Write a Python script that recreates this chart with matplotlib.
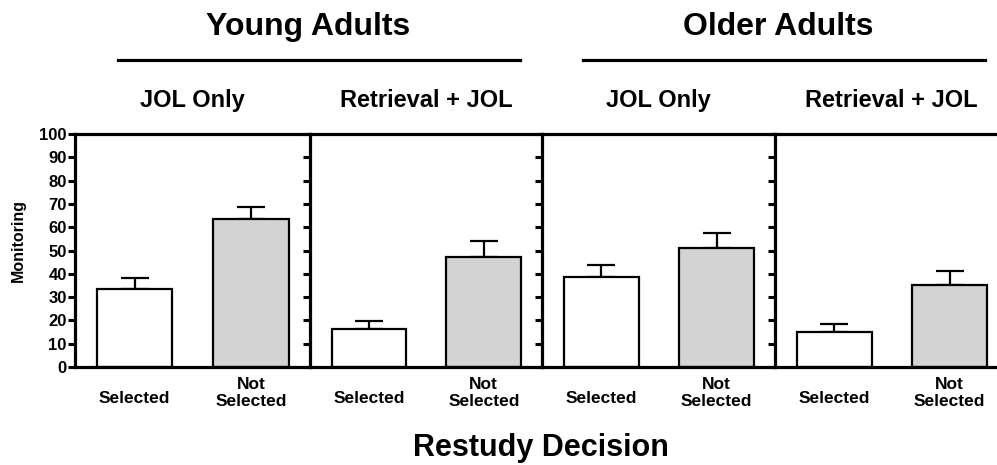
import matplotlib
matplotlib.use("Agg")
import matplotlib.pyplot as plt
from matplotlib.lines import Line2D
import numpy as np

plt.rcParams['font.family'] = ['Liberation Sans', 'DejaVu Sans']
plt.rcParams['font.weight'] = 'bold'

# Monitoring scores (mean, SEM) per restudy decision
categories = ["Selected", "Not\nSelected"]
groups = ["Young Adults", "Older Adults"]
conditions = ["JOL Only", "Retrieval + JOL"]

young_jol = [33.3, 63.5]
young_jol_sem = [4.8, 5.0]
young_ret = [16.3, 47.4]
young_ret_sem = [3.6, 6.5]
older_jol = [38.5, 50.9]
older_jol_sem = [5.1, 6.4]
older_ret = [15.2, 35.1]
older_ret_sem = [3.4, 5.9]

panels = [
    (young_jol, young_jol_sem),
    (young_ret, young_ret_sem),
    (older_jol, older_jol_sem),
    (older_ret, older_ret_sem),
]
bar_colors = ["white", "#d3d3d3"]

W, H = 997, 465
fig = plt.figure(figsize=(W / 100, H / 100), dpi=100)

# panel edges in pixels
lefts = [75, 310, 542, 775]
widths = [235, 232, 233, 233]
top, bottom = 134, 367
title_y = (bottom - 100) / (bottom - top)   # subtitle row, in axes units

x = np.arange(len(categories))
for i, (means, sems) in enumerate(panels):
    ax = fig.add_axes([lefts[i] / W, 1 - bottom / H, widths[i] / W, (bottom - top) / H])
    ax.bar(x, means, width=0.65, color=bar_colors, edgecolor="black", linewidth=1.6, zorder=2)
    ax.errorbar(x, means, yerr=[np.zeros(len(sems)), sems], fmt="none", ecolor="black",
                elinewidth=1.6, capsize=10, capthick=1.6, zorder=1)
    ax.set_xlim(-0.513, 1.507)
    ax.set_ylim(0, 100)
    ax.set_yticks(np.arange(0, 101, 10))
    ax.set_xticks([])
    ax.spines["right"].set_visible(False)
    for s in ["left", "top", "bottom"]:
        ax.spines[s].set_linewidth(2.3)
    ax.tick_params(axis="y", direction="out", length=5, width=2.2, pad=1, labelsize=12)
    if i > 0:
        ax.tick_params(axis="y", labelleft=False)
    for xi, lab in zip(x, categories):
        ax.text(xi, -0.112 if "\n" in lab else -0.137, lab, transform=ax.get_xaxis_transform(),
                ha="center", va="center", fontsize=12.5, fontweight="bold", linespacing=1.15)
    ax.set_title(conditions[i % 2], fontsize=17, fontweight="bold", pad=0, y=title_y, va="center")

# group headers with underline
for name, xc, (x0, x1) in [("Young Adults", 308, (118, 520)), ("Older Adults", 778, (583, 985))]:
    fig.text(xc / W, 1 - 27 / H, name, ha="center", va="center", fontsize=23, fontweight="bold")
    fig.add_artist(Line2D([x0 / W, x1 / W], [1 - 60 / H] * 2, color="black", linewidth=2.3,
                          transform=fig.transFigure))

fig.text(18 / W, 1 - 240 / H, "Monitoring", rotation=90, ha="center", va="center",
         fontsize=11.5, fontweight="bold")
fig.text(541 / W, 1 - 448 / H, "Restudy Decision", ha="center", va="center",
         fontsize=22, fontweight="bold")

fig.savefig("out.png", dpi=100)
